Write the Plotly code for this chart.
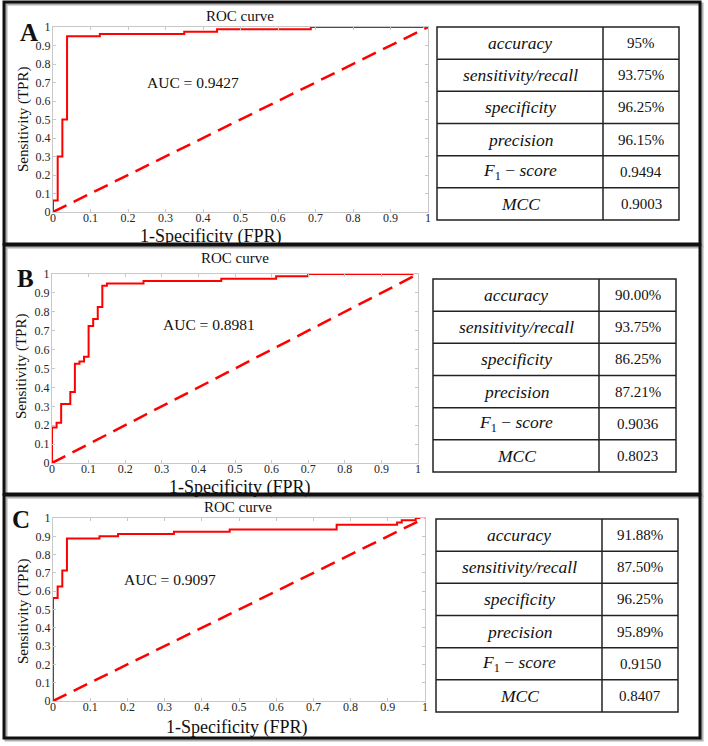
import plotly.graph_objects as go

W, H = 708, 746

# ROC step points (corner points, drawn with 'hv' steps)
fpr_a = [0, 0, 0.0125, 0.025, 0.0375, 0.125, 0.35, 0.4375, 0.6875, 0.9875]
tpr_a = [0, 0.0625, 0.3, 0.5, 0.95, 0.9625, 0.975, 0.9875, 1.0, 1.0]

fpr_b = [0, 0, 0.0125, 0.025, 0.05, 0.0625, 0.075, 0.0875, 0.1, 0.1125,
         0.125, 0.1375, 0.15, 0.25, 0.4625, 0.6125, 0.7, 0.9875]
tpr_b = [0, 0.1875, 0.2125, 0.3125, 0.375, 0.525, 0.5375, 0.5625, 0.725, 0.7625,
         0.825, 0.9375, 0.95, 0.9625, 0.975, 0.9875, 1.0, 1.0]

fpr_c = [0, 0, 0.0125, 0.025, 0.0375, 0.125, 0.175, 0.325, 0.475, 0.7625,
         0.925, 0.9375, 0.975, 0.9875]
tpr_c = [0, 0.5625, 0.625, 0.7125, 0.8875, 0.9, 0.9125, 0.925, 0.9375, 0.9625,
         0.975, 0.9875, 1.0, 1.0]

chance = [0, 1]

auc_a, auc_b, auc_c = '0.9427', '0.8981', '0.9097'

metric_names = ['<i>accuracy</i>', '<i>sensitivity/recall</i>', '<i>specificity</i>',
                '<i>precision</i>', '<i>F</i><sub>1</sub> − <i>score</i>', '<i>MCC</i>']
values_a = ['95%', '93.75%', '96.25%', '96.15%', '0.9494', '0.9003']
values_b = ['90.00%', '93.75%', '86.25%', '87.21%', '0.9036', '0.8023']
values_c = ['91.88%', '87.50%', '96.25%', '95.89%', '0.9150', '0.8407']

ticks = [0, 0.1, 0.2, 0.3, 0.4, 0.5, 0.6, 0.7, 0.8, 0.9, 1]
tick_text = ['0', '0.1', '0.2', '0.3', '0.4', '0.5', '0.6', '0.7', '0.8', '0.9', '1']

SERIF = 'Liberation Serif'

# pixel layout of each panel
panels = [
    dict(letter='A', fpr=fpr_a, tpr=tpr_a, auc=auc_a, vals=values_a,
         box=(4, 2, 700, 244), plot=(53, 27, 428, 212), auc_pos=(0.373, 0.698),
         title=(240, 16), xlab=(211, 236), ylab=(23, 120), let=(29, 32),
         table=(437, 603, 679, 27, 220)),
    dict(letter='B', fpr=fpr_b, tpr=tpr_b, auc=auc_b, vals=values_b,
         box=(4, 245, 700, 494), plot=(52, 274, 418, 463), auc_pos=(0.43, 0.732),
         title=(235, 258), xlab=(240, 487), ylab=(21, 367), let=(25, 278),
         table=(433, 599, 676, 279, 472)),
    dict(letter='C', fpr=fpr_c, tpr=tpr_c, auc=auc_c, vals=values_c,
         box=(4, 495, 700, 738), plot=(53, 518, 425, 701), auc_pos=(0.315, 0.665),
         title=(238, 507), xlab=(237, 727), ylab=(23, 612), let=(21, 519),
         table=(436, 602, 678, 519, 712)),
]


def px(x):
    return x / W


def py(y):
    return 1 - y / H


def label(text, x, y, size, angle=0, xref='paper', yref='paper'):
    if xref == 'paper':
        x, y = px(x), py(y)
    return dict(text=text, x=x, y=y, xref=xref, yref=yref, showarrow=False,
                xanchor='center', yanchor='middle', textangle=angle,
                font=dict(family=SERIF, size=size, color='#111'))


def box(x0, y0, x1, y1, color, width, layer='above'):
    return dict(type='rect', xref='paper', yref='paper',
                x0=px(x0), y0=py(y1), x1=px(x1), y1=py(y0),
                line=dict(color=color, width=width), layer=layer)


def hline(x0, x1, y, color='#222', width=1.5):
    return dict(type='line', xref='paper', yref='paper',
                x0=px(x0), y0=py(y), x1=px(x1), y1=py(y),
                line=dict(color=color, width=width))


def vline(x, y0, y1, color='#222', width=1.5):
    return dict(type='line', xref='paper', yref='paper',
                x0=px(x), y0=py(y0), x1=px(x), y1=py(y1),
                line=dict(color=color, width=width))


fig = go.Figure()
shapes = []
annotations = []

for i, p in enumerate(panels):
    n = '' if i == 0 else str(i + 1)
    xa, ya = 'x' + n, 'y' + n

    fig.add_trace(go.Scatter(x=chance, y=chance, mode='lines', xaxis=xa, yaxis=ya,
                             line=dict(color='#ff0000', width=2.5, dash='15px,8px'),
                             showlegend=False, hoverinfo='skip'))
    fig.add_trace(go.Scatter(x=p['fpr'], y=p['tpr'], mode='lines', xaxis=xa, yaxis=ya,
                             line=dict(color='#ff0000', width=2, shape='hv'),
                             showlegend=False))

    x0, y0, x1, y1 = p['plot']
    axis_style = dict(range=[0, 1], tickvals=ticks, ticktext=tick_text,
                      showline=True, linecolor='#c8c8c8', linewidth=1, mirror='ticks',
                      ticks='inside', ticklen=3, tickcolor='#c8c8c8',
                      showgrid=False, zeroline=False, automargin=False,
                      tickfont=dict(family=SERIF, size=12, color='#262626'))
    fig.layout['xaxis' + n] = dict(axis_style, domain=[px(x0), px(x1)], anchor=ya,
                                   ticklabelstandoff=-5)
    fig.layout['yaxis' + n] = dict(axis_style, domain=[py(y1), py(y0)], anchor=xa,
                                   ticklabelstandoff=-1)

    # panel frame with soft shadow
    bx0, by0, bx1, by1 = p['box']
    shapes.append(box(bx0 + 2, by0 + 2, bx1 + 2, by1 + 2, '#b0b0b0', 3, 'below'))
    shapes.append(box(bx0, by0, bx1, by1, '#111111', 3))

    annotations.append(label('ROC curve', *p['title'], 15))
    annotations.append(label('1-Specificity (FPR)', *p['xlab'], 18))
    annotations.append(label('Sensitivity (TPR)', *p['ylab'], 15, angle=-90))
    annotations.append(label('AUC = ' + p['auc'], p['auc_pos'][0], p['auc_pos'][1], 15.5,
                             xref=xa, yref=ya))
    annotations.append(label('<b>' + p['letter'] + '</b>', *p['let'], 25))

    # metrics table
    tx0, tdiv, tx1, ty0, ty1 = p['table']
    row_h = (ty1 - ty0) / len(metric_names)
    shapes.append(box(tx0, ty0, tx1, ty1, '#222', 1.5))
    shapes.append(vline(tdiv, ty0, ty1))
    for r, (name, val) in enumerate(zip(metric_names, p['vals'])):
        if r > 0:
            shapes.append(hline(tx0, tx1, ty0 + r * row_h))
        yc = ty0 + (r + 0.5) * row_h
        annotations.append(label(name, (tx0 + tdiv) / 2, yc, 17.5))
        annotations.append(label(val, (tdiv + tx1) / 2, yc, 15))

fig.update_layout(template='none', width=W, height=H,
                  margin=dict(l=0, r=0, t=0, b=0, pad=0),
                  paper_bgcolor='white', plot_bgcolor='white',
                  shapes=shapes, annotations=annotations, showlegend=False)

fig.write_html('out.html', config={'displayModeBar': False},
               post_script="document.body.style.margin = '0';")
